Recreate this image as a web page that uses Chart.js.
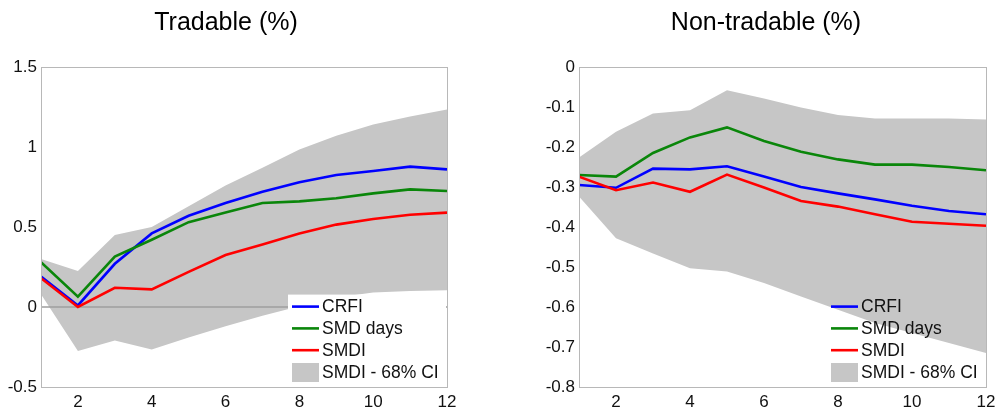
<!DOCTYPE html>
<html>
<head>
<meta charset="utf-8">
<script src="https://cdn.jsdelivr.net/npm/chart.js@4.4.1/dist/chart.umd.min.js"></script>
<style>
    html, body { margin: 0; padding: 0; background: #fff; }
    #wrap { position: relative; width: 1000px; height: 412px; overflow: hidden; }
    canvas { position: absolute; top: 0; }
    #trad { left: 5px; }
    #nontrad { left: 546px; }
</style>
</head>
<body>
<div id="wrap">
    <canvas id="trad" width="460" height="412"></canvas>
    <canvas id="nontrad" width="454" height="412"></canvas>
</div>
<script>
// Impulse responses by horizon, two panels

const horizons = [1, 2, 3, 4, 5, 6, 7, 8, 9, 10, 11, 12];
const xTicks = [2, 4, 6, 8, 10, 12];
const legendLabels = ['CRFI', 'SMD days', 'SMDI', 'SMDI - 68% CI'];

// Tradable panel
const tradCrfi    = [0.19, 0.01, 0.27, 0.46, 0.57, 0.65, 0.72, 0.78, 0.825, 0.85, 0.877, 0.86];
const tradSmdDays = [0.28, 0.065, 0.315, 0.42, 0.53, 0.59, 0.65, 0.66, 0.68, 0.71, 0.735, 0.725];
const tradSmdi    = [0.18, 0.0, 0.12, 0.11, 0.22, 0.325, 0.39, 0.46, 0.515, 0.55, 0.577, 0.59];
const tradCiHigh  = [0.30, 0.225, 0.45, 0.50, 0.63, 0.76, 0.87, 0.985, 1.07, 1.14, 1.19, 1.235];
const tradCiLow   = [0.08, -0.275, -0.21, -0.265, -0.19, -0.12, -0.055, 0.005, 0.06, 0.09, 0.10, 0.105];
const tradZero    = [0, 0, 0, 0, 0, 0, 0, 0, 0, 0, 0, 0];
const tradYTicks  = [-0.5, 0, 0.5, 1, 1.5];
const tradYLabels = ['-0.5', '0', '0.5', '1', '1.5'];

// Non-tradable panel
const nonCrfi    = [-0.295, -0.302, -0.254, -0.256, -0.248, -0.274, -0.30, -0.316, -0.331, -0.347, -0.36, -0.368];
const nonSmdDays = [-0.27, -0.274, -0.215, -0.176, -0.151, -0.185, -0.212, -0.231, -0.244, -0.244, -0.25, -0.258];
const nonSmdi    = [-0.274, -0.308, -0.289, -0.312, -0.269, -0.301, -0.335, -0.349, -0.368, -0.387, -0.392, -0.397];
const nonCiHigh  = [-0.226, -0.162, -0.116, -0.108, -0.058, -0.079, -0.101, -0.12, -0.129, -0.129, -0.129, -0.131];
const nonCiLow   = [-0.324, -0.428, -0.466, -0.503, -0.511, -0.54, -0.574, -0.607, -0.64, -0.665, -0.69, -0.715];
const nonYTicks  = [-0.8, -0.7, -0.6, -0.5, -0.4, -0.3, -0.2, -0.1, 0];
const nonYLabels = ['-0.8', '-0.7', '-0.6', '-0.5', '-0.4', '-0.3', '-0.2', '-0.1', '0'];

const FONT = '"Liberation Sans", Arial, Helvetica, sans-serif';
const BLUE = '#0000ff';
const GREEN = '#0a860a';
const RED = '#ff0000';
const BAND = '#c6c6c6';

const pts = vals => horizons.map((h, i) => ({ x: h, y: vals[i] }));

function lineSet(label, vals, color, order) {
    return {
        label, data: pts(vals), borderColor: color, borderWidth: 2.6,
        pointRadius: 0, fill: false, tension: 0, order,
    };
}

// frame around the plot area + legend in the lower right corner
const framePlugin = {
    id: 'frameLegend',
    afterDraw(chart, args, opts) {
        const { ctx, chartArea: a } = chart;
        ctx.save();
        ctx.strokeStyle = '#b8b8b8';
        ctx.lineWidth = 1;
        ctx.strokeRect(a.left + 0.5, a.top + 0.5, a.right - a.left, a.bottom - a.top);

        const x0 = a.right - 155;
        const rowGap = 21.8;
        if (opts.boxFill) {
            ctx.fillStyle = opts.boxFill;
            ctx.fillRect(x0 - 4, a.bottom - 15 - rowGap * 3 - 12, 158, rowGap * 3 + 27);
        }
        const colors = [BLUE, GREEN, RED];
        ctx.font = '17.5px ' + FONT;
        ctx.textBaseline = 'middle';
        ctx.fillStyle = '#111';
        legendLabels.forEach((lbl, i) => {
            const y = a.bottom - 15 - rowGap * (3 - i);
            if (i < 3) {
                ctx.strokeStyle = colors[i];
                ctx.lineWidth = 2.6;
                ctx.beginPath();
                ctx.moveTo(x0, y);
                ctx.lineTo(x0 + 27, y);
                ctx.stroke();
            } else {
                ctx.fillStyle = BAND;
                ctx.fillRect(x0, y - 9, 27, 19);
                ctx.fillStyle = '#111';
            }
            ctx.fillText(lbl, x0 + 30, y + 1);
        });
        ctx.restore();
    },
};

function makeChart(id, cfg) {
    const datasets = [
        { label: 'ci high', data: pts(cfg.ciHigh), borderWidth: 0, pointRadius: 0,
          backgroundColor: BAND, fill: '+1', order: 10 },
        { label: 'ci low', data: pts(cfg.ciLow), borderWidth: 0, pointRadius: 0,
          backgroundColor: BAND, fill: false, order: 10 },
        lineSet('CRFI', cfg.crfi, BLUE, 3),
        lineSet('SMD days', cfg.smdDays, GREEN, 2),
        lineSet('SMDI', cfg.smdi, RED, 1),
    ];
    if (cfg.zero) {
        datasets.push({ label: 'zero', data: pts(cfg.zero), borderColor: '#9e9e9e',
            borderWidth: 1.5, pointRadius: 0, fill: false, order: 5 });
    }

    return new Chart(document.getElementById(id), {
        type: 'line',
        data: { datasets },
        options: {
            responsive: false,
            animation: false,
            layout: { padding: { left: 0, right: cfg.padRight, top: 0, bottom: 0 } },
            plugins: {
                legend: { display: false },
                tooltip: { enabled: false },
                title: {
                    display: true, text: cfg.title, color: '#000',
                    font: { family: FONT, size: 25, weight: 'normal' },
                    padding: { top: 8, bottom: 29 },
                },
                frameLegend: { boxFill: cfg.legendFill },
            },
            scales: {
                x: {
                    type: 'linear', min: 1, max: 12,
                    grid: { display: false, drawTicks: false },
                    border: { display: false },
                    afterBuildTicks: s => { s.ticks = xTicks.map(v => ({ value: v })); },
                    afterFit: s => { s.height = 25; s.paddingLeft = 0; s.paddingRight = 0; },
                    ticks: { padding: 5, color: '#111', maxRotation: 0,
                             font: { family: FONT, size: 17 } },
                },
                y: {
                    min: cfg.yTicks[0], max: cfg.yTicks[cfg.yTicks.length - 1],
                    grid: { display: false, drawTicks: false },
                    border: { display: false },
                    afterBuildTicks: s => { s.ticks = cfg.yTicks.map(v => ({ value: v })); },
                    afterFit: s => { s.width = cfg.yWidth; s.paddingTop = 0; s.paddingBottom = 0; },
                    ticks: {
                        padding: 4, color: '#111',
                        font: { family: FONT, size: 17 },
                        callback: (v, i) => cfg.yLabels[i],
                    },
                },
            },
        },
        plugins: [framePlugin],
    });
}

makeChart('trad', {
    title: 'Tradable (%)',
    crfi: tradCrfi, smdDays: tradSmdDays, smdi: tradSmdi,
    ciHigh: tradCiHigh, ciLow: tradCiLow, zero: tradZero,
    yTicks: tradYTicks, yLabels: tradYLabels,
    yWidth: 36, padRight: 18, legendFill: '#ffffff',
});

makeChart('nontrad', {
    title: 'Non-tradable (%)',
    crfi: nonCrfi, smdDays: nonSmdDays, smdi: nonSmdi,
    ciHigh: nonCiHigh, ciLow: nonCiLow, zero: null,
    yTicks: nonYTicks, yLabels: nonYLabels,
    yWidth: 33, padRight: 14, legendFill: null,
});
</script>
</body>
</html>
